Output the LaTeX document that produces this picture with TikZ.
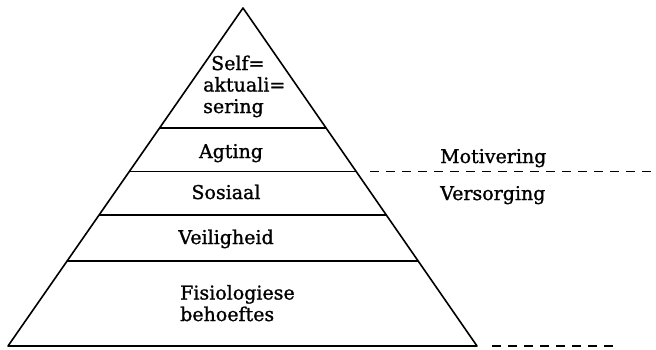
\documentclass[tikz,border=0pt]{standalone}
\usepackage{fontspec}
\setmainfont{DejaVu Serif}
\newfontfamily\lblfont[RawFeature={embolden=1.2}]{DejaVu Serif}
\usetikzlibrary{calc}
\begin{document}
\begin{tikzpicture}[x=1pt,y=-1pt,
  edge/.style={line width=1.6pt,line cap=round,line join=round},
  level/.style={line width=1.7pt},
  dashline/.style={line width=1.4pt,dash pattern=on 9pt off 7pt},
  lbl/.style={inner sep=0pt,anchor=base,font=\lblfont\fontsize{19}{21.5}\selectfont}]
\useasboundingbox (0,0) rectangle (656,349);
\coordinate (apex) at (243,8);
\coordinate (baseL) at (8,346);
\coordinate (baseR) at (477,346);
\draw[edge] (apex) -- (baseL) -- (baseR) -- cycle;
\foreach \n/\f in {1/0.355,2/0.484,3/0.612,4/0.749}{
  \coordinate (L\n) at ($(apex)!\f!(baseL)$);
  \coordinate (R\n) at ($(apex)!\f!(baseR)$);
  \draw[level] (L\n) -- (R\n);
}
\coordinate (m1) at ($(baseR)+(15,0)$);
\coordinate (m2) at (613,346);
\coordinate (d1) at ($(R2)+(14,0)$);
\coordinate (d2) at (656,171);
\draw[dashline] (d1) -- (d2 |- d1);
\draw[dashline] (m1) -- (m2);
\node[lbl,anchor=base west,align=left] (self) at (203,113) {\hspace*{8pt}Self=\\aktuali=\\sering};
\node[lbl] (agting) at (231,158) {Agting};
\node[lbl] (sosiaal) at (226,199) {Sosiaal};
\node[lbl] (veilig) at (226,244) {Veiligheid};
\node[lbl,anchor=base west,align=left] (fisio) at (180,321) {Fisiologiese\\behoeftes};
\node[lbl,anchor=base west] (motiv) at (440,163) {Motivering};
\node[lbl,anchor=base west] (versorg) at (440,200) {Versorging};
\end{tikzpicture}
\end{document}
